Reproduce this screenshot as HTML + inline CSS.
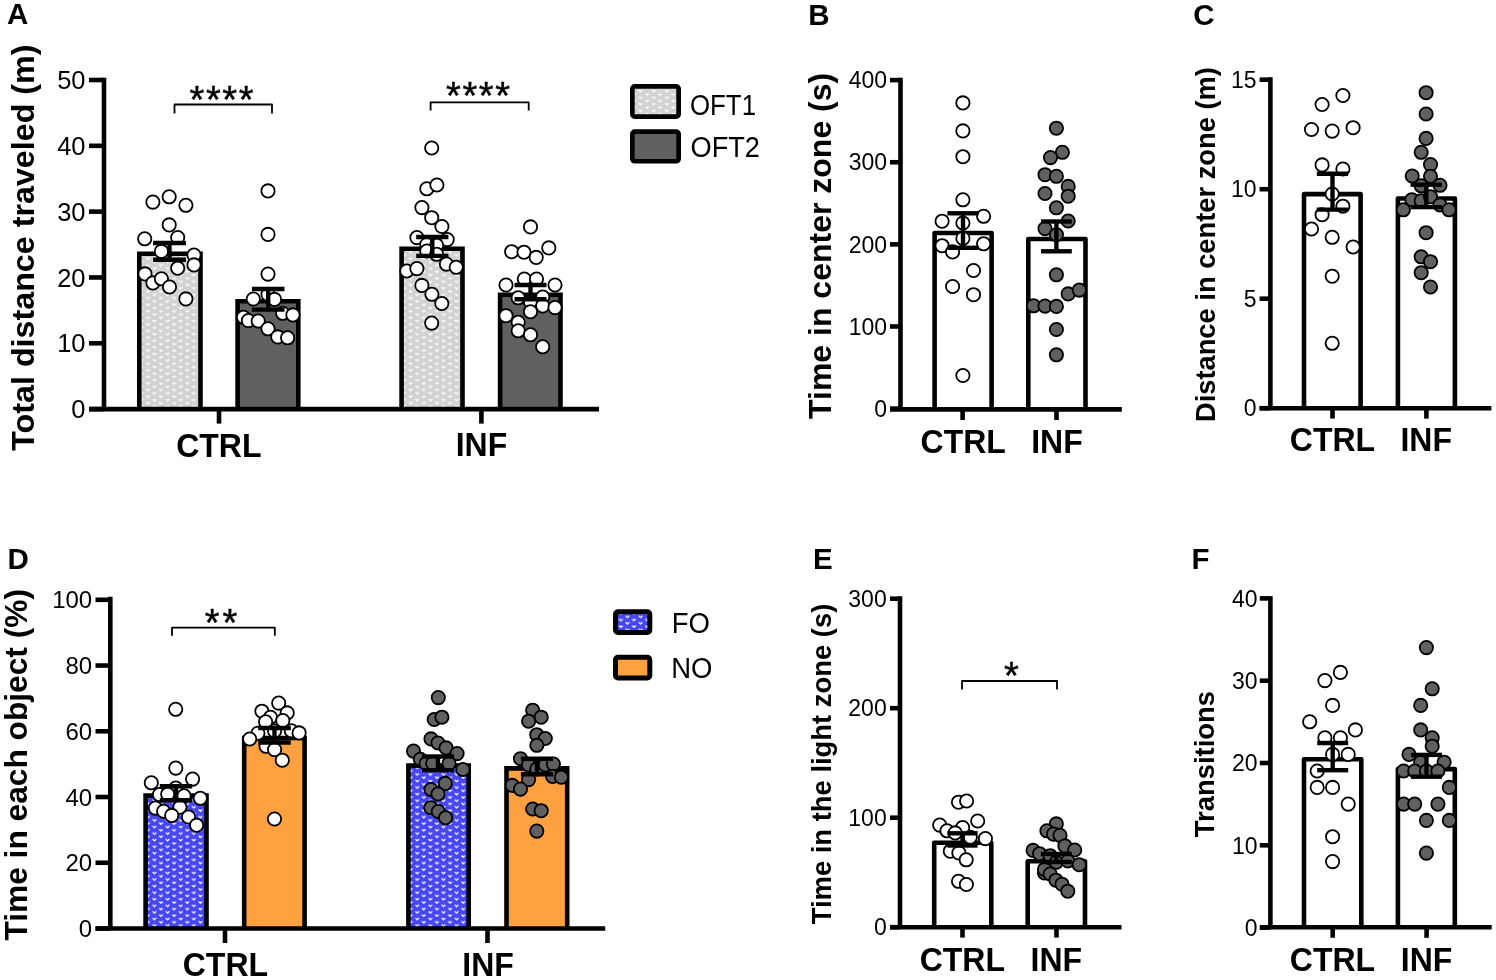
<!DOCTYPE html>
<html><head><meta charset="utf-8"><style>
html,body{margin:0;padding:0;background:#fff;}
svg{display:block;will-change:transform;}
text{font-family:"Liberation Sans", sans-serif;fill:#000;}
</style></head><body>
<svg width="1496" height="980" viewBox="0 0 1496 980">
<defs>
<pattern id="pgray" patternUnits="userSpaceOnUse" width="13.14" height="6.57" x="0" y="0">
<rect width="13.14" height="6.57" fill="#d2d2d2"/>
<path d="M1.5,1.4 L3.3,3.2 L5.1,1.4 M8.07,4.69 L9.87,6.49 L11.67,4.69 M8.07,-1.88 L9.87,-0.08 L11.67,-1.88" fill="none" stroke="#ffffff" stroke-width="1.2"/>
</pattern>
<pattern id="pblue" patternUnits="userSpaceOnUse" width="13.14" height="6.57" x="0" y="0">
<rect width="13.14" height="6.57" fill="#4646f2"/>
<path d="M1.5,1.4 L3.3,3.2 L5.1,1.4 M8.07,4.69 L9.87,6.49 L11.67,4.69 M8.07,-1.88 L9.87,-0.08 L11.67,-1.88" fill="none" stroke="#ffffff" stroke-width="1.25"/>
</pattern>
</defs>
<rect width="1496" height="980" fill="#fff"/>
<text transform="translate(7.00,24.10) scale(1,1.01)" x="0" y="0" font-size="29.5" font-weight="bold" text-anchor="start" >A</text>
<text transform="translate(808.20,24.50) scale(1,1.01)" x="0" y="0" font-size="29.5" font-weight="bold" text-anchor="start" >B</text>
<text transform="translate(1193.20,24.50) scale(1,1.01)" x="0" y="0" font-size="29.5" font-weight="bold" text-anchor="start" >C</text>
<text transform="translate(7.50,569.00) scale(1,1.01)" x="0" y="0" font-size="29.5" font-weight="bold" text-anchor="start" >D</text>
<text transform="translate(813.00,568.90) scale(1,1.01)" x="0" y="0" font-size="29.5" font-weight="bold" text-anchor="start" >E</text>
<text transform="translate(1191.50,569.10) scale(1,1.01)" x="0" y="0" font-size="29.5" font-weight="bold" text-anchor="start" >F</text>
<path d="M139.30,409.10 V253.80 H200.50 V409.10" fill="url(#pgray)" stroke="#000" stroke-width="4.6" stroke-linejoin="miter"/>
<path d="M237.60,409.10 V301.30 H298.30 V409.10" fill="#606060" stroke="#000" stroke-width="4.6" stroke-linejoin="miter"/>
<path d="M401.60,409.10 V248.80 H462.50 V409.10" fill="url(#pgray)" stroke="#000" stroke-width="4.6" stroke-linejoin="miter"/>
<path d="M500.10,409.10 V294.70 H560.50 V409.10" fill="#606060" stroke="#000" stroke-width="4.6" stroke-linejoin="miter"/>
<line x1="89.00" y1="409.10" x2="599.00" y2="409.10" stroke="#000" stroke-width="4.6" stroke-linecap="butt"/>
<line x1="219.00" y1="409.10" x2="219.00" y2="423.60" stroke="#000" stroke-width="4.6" stroke-linecap="butt"/>
<line x1="481.40" y1="409.10" x2="481.40" y2="423.60" stroke="#000" stroke-width="4.6" stroke-linecap="butt"/>
<line x1="104.00" y1="77.70" x2="104.00" y2="409.10" stroke="#000" stroke-width="4.6" stroke-linecap="butt"/>
<line x1="89.00" y1="409.10" x2="104.00" y2="409.10" stroke="#000" stroke-width="4.6" stroke-linecap="butt"/>
<text x="85.50" y="418.23" font-size="25.5" font-weight="normal" text-anchor="end" >0</text>
<line x1="89.00" y1="343.28" x2="104.00" y2="343.28" stroke="#000" stroke-width="4.6" stroke-linecap="butt"/>
<text x="85.50" y="352.41" font-size="25.5" font-weight="normal" text-anchor="end" >10</text>
<line x1="89.00" y1="277.46" x2="104.00" y2="277.46" stroke="#000" stroke-width="4.6" stroke-linecap="butt"/>
<text x="85.50" y="286.59" font-size="25.5" font-weight="normal" text-anchor="end" >20</text>
<line x1="89.00" y1="211.64" x2="104.00" y2="211.64" stroke="#000" stroke-width="4.6" stroke-linecap="butt"/>
<text x="85.50" y="220.77" font-size="25.5" font-weight="normal" text-anchor="end" >30</text>
<line x1="89.00" y1="145.82" x2="104.00" y2="145.82" stroke="#000" stroke-width="4.6" stroke-linecap="butt"/>
<text x="85.50" y="154.95" font-size="25.5" font-weight="normal" text-anchor="end" >40</text>
<line x1="89.00" y1="80.00" x2="104.00" y2="80.00" stroke="#000" stroke-width="4.6" stroke-linecap="butt"/>
<text x="85.50" y="89.13" font-size="25.5" font-weight="normal" text-anchor="end" >50</text>
<text transform="translate(34.30,247.60) rotate(-90)" x="0" y="0" font-size="32.25" font-weight="bold" text-anchor="middle">Total distance traveled (m)</text>
<text transform="translate(218.80,456.50) scale(1,1.06)" x="0" y="0" font-size="32" font-weight="bold" text-anchor="middle" >CTRL</text>
<text transform="translate(481.40,456.20) scale(1,1.06)" x="0" y="0" font-size="32" font-weight="bold" text-anchor="middle" >INF</text>
<path d="M174.50,113.50 V104.50 H272.00 V113.50" fill="none" stroke="#000" stroke-width="1.8" stroke-linejoin="round"/>
<path d="M430.60,110.40 V102.30 H528.70 V110.40" fill="none" stroke="#000" stroke-width="1.8" stroke-linejoin="round"/>
<text x="189.50" y="113.20" font-size="38" stroke="#000" stroke-width="0.45" class="st">*</text>
<text x="205.90" y="113.20" font-size="38" stroke="#000" stroke-width="0.45" class="st">*</text>
<text x="222.30" y="113.20" font-size="38" stroke="#000" stroke-width="0.45" class="st">*</text>
<text x="238.70" y="113.20" font-size="38" stroke="#000" stroke-width="0.45" class="st">*</text>
<text x="446.00" y="108.80" font-size="38" stroke="#000" stroke-width="0.45" class="st">*</text>
<text x="462.40" y="108.80" font-size="38" stroke="#000" stroke-width="0.45" class="st">*</text>
<text x="478.80" y="108.80" font-size="38" stroke="#000" stroke-width="0.45" class="st">*</text>
<text x="495.20" y="108.80" font-size="38" stroke="#000" stroke-width="0.45" class="st">*</text>
<rect x="632.35" y="86.35" width="46.3" height="30.3" rx="2.5" fill="url(#pgray)" stroke="#000" stroke-width="4.7"/>
<rect x="632.35" y="131.65" width="46.3" height="29.6" rx="2.5" fill="#606060" stroke="#000" stroke-width="4.7"/>
<text transform="translate(690.00,114.90) scale(1,1.06)" x="0" y="0" font-size="28" font-weight="normal" text-anchor="start" textLength="66" lengthAdjust="spacingAndGlyphs">OFT1</text>
<text transform="translate(690.50,156.90) scale(1,1.06)" x="0" y="0" font-size="28" font-weight="normal" text-anchor="start" textLength="69.5" lengthAdjust="spacingAndGlyphs">OFT2</text>
<circle cx="152.9" cy="202.1" r="6.65" fill="#fff" stroke="#000" stroke-width="1.8"/>
<circle cx="169.2" cy="196.8" r="6.65" fill="#fff" stroke="#000" stroke-width="1.8"/>
<circle cx="185.9" cy="205.3" r="6.65" fill="#fff" stroke="#000" stroke-width="1.8"/>
<circle cx="169.2" cy="224.9" r="6.65" fill="#fff" stroke="#000" stroke-width="1.8"/>
<circle cx="144.7" cy="238.8" r="6.65" fill="#fff" stroke="#000" stroke-width="1.8"/>
<circle cx="177.7" cy="237.5" r="6.65" fill="#fff" stroke="#000" stroke-width="1.8"/>
<circle cx="161.4" cy="251.4" r="6.65" fill="#fff" stroke="#000" stroke-width="1.8"/>
<circle cx="194.0" cy="255.1" r="6.65" fill="#fff" stroke="#000" stroke-width="1.8"/>
<circle cx="194.0" cy="264.9" r="6.65" fill="#fff" stroke="#000" stroke-width="1.8"/>
<circle cx="177.7" cy="268.2" r="6.65" fill="#fff" stroke="#000" stroke-width="1.8"/>
<circle cx="145.0" cy="273.9" r="6.65" fill="#fff" stroke="#000" stroke-width="1.8"/>
<circle cx="152.9" cy="282.9" r="6.65" fill="#fff" stroke="#000" stroke-width="1.8"/>
<circle cx="161.4" cy="278.8" r="6.65" fill="#fff" stroke="#000" stroke-width="1.8"/>
<circle cx="169.5" cy="287.0" r="6.65" fill="#fff" stroke="#000" stroke-width="1.8"/>
<circle cx="185.9" cy="298.9" r="6.65" fill="#fff" stroke="#000" stroke-width="1.8"/>
<circle cx="268.0" cy="190.9" r="6.65" fill="#fff" stroke="#000" stroke-width="1.8"/>
<circle cx="268.0" cy="234.4" r="6.65" fill="#fff" stroke="#000" stroke-width="1.8"/>
<circle cx="268.0" cy="274.1" r="6.65" fill="#fff" stroke="#000" stroke-width="1.8"/>
<circle cx="268.0" cy="294.5" r="6.65" fill="#fff" stroke="#000" stroke-width="1.8"/>
<circle cx="274.5" cy="299.4" r="6.65" fill="#fff" stroke="#000" stroke-width="1.8"/>
<circle cx="253.3" cy="299.0" r="6.65" fill="#fff" stroke="#000" stroke-width="1.8"/>
<circle cx="282.7" cy="313.3" r="6.65" fill="#fff" stroke="#000" stroke-width="1.8"/>
<circle cx="292.9" cy="314.9" r="6.65" fill="#fff" stroke="#000" stroke-width="1.8"/>
<circle cx="243.5" cy="317.3" r="6.65" fill="#fff" stroke="#000" stroke-width="1.8"/>
<circle cx="248.4" cy="320.6" r="6.65" fill="#fff" stroke="#000" stroke-width="1.8"/>
<circle cx="258.2" cy="321.0" r="6.65" fill="#fff" stroke="#000" stroke-width="1.8"/>
<circle cx="268.0" cy="328.8" r="6.65" fill="#fff" stroke="#000" stroke-width="1.8"/>
<circle cx="277.8" cy="336.9" r="6.65" fill="#fff" stroke="#000" stroke-width="1.8"/>
<circle cx="287.6" cy="337.8" r="6.65" fill="#fff" stroke="#000" stroke-width="1.8"/>
<circle cx="431.7" cy="148.0" r="6.65" fill="#fff" stroke="#000" stroke-width="1.8"/>
<circle cx="426.8" cy="188.8" r="6.65" fill="#fff" stroke="#000" stroke-width="1.8"/>
<circle cx="436.9" cy="185.0" r="6.65" fill="#fff" stroke="#000" stroke-width="1.8"/>
<circle cx="421.9" cy="207.6" r="6.65" fill="#fff" stroke="#000" stroke-width="1.8"/>
<circle cx="431.7" cy="217.7" r="6.65" fill="#fff" stroke="#000" stroke-width="1.8"/>
<circle cx="441.9" cy="226.5" r="6.65" fill="#fff" stroke="#000" stroke-width="1.8"/>
<circle cx="416.9" cy="237.6" r="6.65" fill="#fff" stroke="#000" stroke-width="1.8"/>
<circle cx="447.2" cy="239.6" r="6.65" fill="#fff" stroke="#000" stroke-width="1.8"/>
<circle cx="426.8" cy="244.5" r="6.65" fill="#fff" stroke="#000" stroke-width="1.8"/>
<circle cx="436.6" cy="245.3" r="6.65" fill="#fff" stroke="#000" stroke-width="1.8"/>
<circle cx="426.8" cy="251.0" r="6.65" fill="#fff" stroke="#000" stroke-width="1.8"/>
<circle cx="436.6" cy="254.3" r="6.65" fill="#fff" stroke="#000" stroke-width="1.8"/>
<circle cx="406.8" cy="271.0" r="6.65" fill="#fff" stroke="#000" stroke-width="1.8"/>
<circle cx="416.9" cy="268.6" r="6.65" fill="#fff" stroke="#000" stroke-width="1.8"/>
<circle cx="446.4" cy="264.1" r="6.65" fill="#fff" stroke="#000" stroke-width="1.8"/>
<circle cx="456.2" cy="267.3" r="6.65" fill="#fff" stroke="#000" stroke-width="1.8"/>
<circle cx="421.9" cy="285.4" r="6.65" fill="#fff" stroke="#000" stroke-width="1.8"/>
<circle cx="431.9" cy="294.3" r="6.65" fill="#fff" stroke="#000" stroke-width="1.8"/>
<circle cx="441.8" cy="303.5" r="6.65" fill="#fff" stroke="#000" stroke-width="1.8"/>
<circle cx="431.7" cy="323.1" r="6.65" fill="#fff" stroke="#000" stroke-width="1.8"/>
<circle cx="530.5" cy="226.9" r="6.65" fill="#fff" stroke="#000" stroke-width="1.8"/>
<circle cx="511.7" cy="251.7" r="6.65" fill="#fff" stroke="#000" stroke-width="1.8"/>
<circle cx="524.0" cy="252.2" r="6.65" fill="#fff" stroke="#000" stroke-width="1.8"/>
<circle cx="536.2" cy="257.4" r="6.65" fill="#fff" stroke="#000" stroke-width="1.8"/>
<circle cx="548.8" cy="247.9" r="6.65" fill="#fff" stroke="#000" stroke-width="1.8"/>
<circle cx="524.3" cy="279.0" r="6.65" fill="#fff" stroke="#000" stroke-width="1.8"/>
<circle cx="536.5" cy="279.0" r="6.65" fill="#fff" stroke="#000" stroke-width="1.8"/>
<circle cx="506.0" cy="285.0" r="6.65" fill="#fff" stroke="#000" stroke-width="1.8"/>
<circle cx="555.0" cy="285.0" r="6.65" fill="#fff" stroke="#000" stroke-width="1.8"/>
<circle cx="518.2" cy="297.8" r="6.65" fill="#fff" stroke="#000" stroke-width="1.8"/>
<circle cx="542.7" cy="297.0" r="6.65" fill="#fff" stroke="#000" stroke-width="1.8"/>
<circle cx="530.5" cy="301.9" r="6.65" fill="#fff" stroke="#000" stroke-width="1.8"/>
<circle cx="542.7" cy="305.9" r="6.65" fill="#fff" stroke="#000" stroke-width="1.8"/>
<circle cx="555.0" cy="307.6" r="6.65" fill="#fff" stroke="#000" stroke-width="1.8"/>
<circle cx="530.5" cy="311.7" r="6.65" fill="#fff" stroke="#000" stroke-width="1.8"/>
<circle cx="506.0" cy="315.7" r="6.65" fill="#fff" stroke="#000" stroke-width="1.8"/>
<circle cx="518.2" cy="322.3" r="6.65" fill="#fff" stroke="#000" stroke-width="1.8"/>
<circle cx="518.2" cy="330.8" r="6.65" fill="#fff" stroke="#000" stroke-width="1.8"/>
<circle cx="530.5" cy="334.8" r="6.65" fill="#fff" stroke="#000" stroke-width="1.8"/>
<circle cx="542.7" cy="346.8" r="6.65" fill="#fff" stroke="#000" stroke-width="1.8"/>
<line x1="169.50" y1="243.00" x2="169.50" y2="259.70" stroke="#000" stroke-width="4.4" stroke-linecap="butt"/>
<line x1="153.10" y1="243.00" x2="185.90" y2="243.00" stroke="#000" stroke-width="4.4" stroke-linecap="butt"/>
<line x1="153.10" y1="259.70" x2="185.90" y2="259.70" stroke="#000" stroke-width="4.4" stroke-linecap="butt"/>
<line x1="268.20" y1="289.00" x2="268.20" y2="309.60" stroke="#000" stroke-width="4.4" stroke-linecap="butt"/>
<line x1="251.90" y1="289.00" x2="284.50" y2="289.00" stroke="#000" stroke-width="4.4" stroke-linecap="butt"/>
<line x1="251.90" y1="309.60" x2="284.50" y2="309.60" stroke="#000" stroke-width="4.4" stroke-linecap="butt"/>
<line x1="432.30" y1="237.00" x2="432.30" y2="255.90" stroke="#000" stroke-width="4.4" stroke-linecap="butt"/>
<line x1="416.20" y1="237.00" x2="448.40" y2="237.00" stroke="#000" stroke-width="4.4" stroke-linecap="butt"/>
<line x1="416.20" y1="255.90" x2="448.40" y2="255.90" stroke="#000" stroke-width="4.4" stroke-linecap="butt"/>
<line x1="530.50" y1="285.00" x2="530.50" y2="299.20" stroke="#000" stroke-width="4.4" stroke-linecap="butt"/>
<line x1="514.50" y1="285.00" x2="546.50" y2="285.00" stroke="#000" stroke-width="4.4" stroke-linecap="butt"/>
<line x1="514.50" y1="299.20" x2="546.50" y2="299.20" stroke="#000" stroke-width="4.4" stroke-linecap="butt"/>
<path d="M934.60,409.40 V233.00 H991.60 V409.40" fill="#fff" stroke="#000" stroke-width="4.6" stroke-linejoin="round"/>
<path d="M1028.30,409.40 V239.00 H1085.50 V409.40" fill="#fff" stroke="#000" stroke-width="4.6" stroke-linejoin="round"/>
<line x1="890.00" y1="409.40" x2="1121.80" y2="409.40" stroke="#000" stroke-width="4.6" stroke-linecap="butt"/>
<line x1="962.60" y1="409.40" x2="962.60" y2="420.00" stroke="#000" stroke-width="4.6" stroke-linecap="butt"/>
<line x1="1056.50" y1="409.40" x2="1056.50" y2="420.00" stroke="#000" stroke-width="4.6" stroke-linecap="butt"/>
<line x1="900.50" y1="77.70" x2="900.50" y2="409.40" stroke="#000" stroke-width="4.6" stroke-linecap="butt"/>
<line x1="890.00" y1="408.60" x2="900.50" y2="408.60" stroke="#000" stroke-width="4.6" stroke-linecap="butt"/>
<text x="887.00" y="416.83" font-size="23" font-weight="normal" text-anchor="end" >0</text>
<line x1="890.00" y1="326.48" x2="900.50" y2="326.48" stroke="#000" stroke-width="4.6" stroke-linecap="butt"/>
<text x="887.00" y="334.71" font-size="23" font-weight="normal" text-anchor="end" >100</text>
<line x1="890.00" y1="244.36" x2="900.50" y2="244.36" stroke="#000" stroke-width="4.6" stroke-linecap="butt"/>
<text x="887.00" y="252.59" font-size="23" font-weight="normal" text-anchor="end" >200</text>
<line x1="890.00" y1="162.24" x2="900.50" y2="162.24" stroke="#000" stroke-width="4.6" stroke-linecap="butt"/>
<text x="887.00" y="170.47" font-size="23" font-weight="normal" text-anchor="end" >300</text>
<line x1="890.00" y1="80.12" x2="900.50" y2="80.12" stroke="#000" stroke-width="4.6" stroke-linecap="butt"/>
<text x="887.00" y="88.35" font-size="23" font-weight="normal" text-anchor="end" >400</text>
<text transform="translate(830.70,245.90) rotate(-90)" x="0" y="0" font-size="32.0" font-weight="bold" text-anchor="middle">Time in center zone (s)</text>
<text transform="translate(963.20,452.70) scale(1,1.06)" x="0" y="0" font-size="32" font-weight="bold" text-anchor="middle" >CTRL</text>
<text transform="translate(1056.90,452.70) scale(1,1.06)" x="0" y="0" font-size="32" font-weight="bold" text-anchor="middle" >INF</text>
<circle cx="962.9" cy="102.9" r="6.65" fill="#fff" stroke="#000" stroke-width="1.8"/>
<circle cx="962.9" cy="130.9" r="6.65" fill="#fff" stroke="#000" stroke-width="1.8"/>
<circle cx="962.9" cy="156.7" r="6.65" fill="#fff" stroke="#000" stroke-width="1.8"/>
<circle cx="962.9" cy="199.8" r="6.65" fill="#fff" stroke="#000" stroke-width="1.8"/>
<circle cx="942.1" cy="221.2" r="6.65" fill="#fff" stroke="#000" stroke-width="1.8"/>
<circle cx="962.9" cy="223.0" r="6.65" fill="#fff" stroke="#000" stroke-width="1.8"/>
<circle cx="983.6" cy="216.3" r="6.65" fill="#fff" stroke="#000" stroke-width="1.8"/>
<circle cx="962.9" cy="238.4" r="6.65" fill="#fff" stroke="#000" stroke-width="1.8"/>
<circle cx="942.1" cy="245.7" r="6.65" fill="#fff" stroke="#000" stroke-width="1.8"/>
<circle cx="983.6" cy="243.8" r="6.65" fill="#fff" stroke="#000" stroke-width="1.8"/>
<circle cx="952.6" cy="251.9" r="6.65" fill="#fff" stroke="#000" stroke-width="1.8"/>
<circle cx="973.5" cy="270.5" r="6.65" fill="#fff" stroke="#000" stroke-width="1.8"/>
<circle cx="952.6" cy="286.5" r="6.65" fill="#fff" stroke="#000" stroke-width="1.8"/>
<circle cx="973.5" cy="294.7" r="6.65" fill="#fff" stroke="#000" stroke-width="1.8"/>
<circle cx="962.9" cy="375.5" r="6.65" fill="#fff" stroke="#000" stroke-width="1.8"/>
<circle cx="1056.4" cy="128.2" r="6.65" fill="#606060" stroke="#000" stroke-width="1.8"/>
<circle cx="1062.4" cy="152.3" r="6.65" fill="#606060" stroke="#000" stroke-width="1.8"/>
<circle cx="1050.5" cy="157.6" r="6.65" fill="#606060" stroke="#000" stroke-width="1.8"/>
<circle cx="1045.0" cy="174.7" r="6.65" fill="#606060" stroke="#000" stroke-width="1.8"/>
<circle cx="1056.4" cy="176.3" r="6.65" fill="#606060" stroke="#000" stroke-width="1.8"/>
<circle cx="1068.2" cy="186.4" r="6.65" fill="#606060" stroke="#000" stroke-width="1.8"/>
<circle cx="1045.0" cy="193.5" r="6.65" fill="#606060" stroke="#000" stroke-width="1.8"/>
<circle cx="1068.2" cy="196.2" r="6.65" fill="#606060" stroke="#000" stroke-width="1.8"/>
<circle cx="1056.4" cy="207.8" r="6.65" fill="#606060" stroke="#000" stroke-width="1.8"/>
<circle cx="1068.2" cy="221.0" r="6.65" fill="#606060" stroke="#000" stroke-width="1.8"/>
<circle cx="1045.0" cy="228.6" r="6.65" fill="#606060" stroke="#000" stroke-width="1.8"/>
<circle cx="1056.4" cy="234.7" r="6.65" fill="#606060" stroke="#000" stroke-width="1.8"/>
<circle cx="1056.4" cy="274.8" r="6.65" fill="#606060" stroke="#000" stroke-width="1.8"/>
<circle cx="1068.2" cy="293.9" r="6.65" fill="#606060" stroke="#000" stroke-width="1.8"/>
<circle cx="1079.3" cy="290.1" r="6.65" fill="#606060" stroke="#000" stroke-width="1.8"/>
<circle cx="1033.6" cy="305.8" r="6.65" fill="#606060" stroke="#000" stroke-width="1.8"/>
<circle cx="1045.0" cy="306.1" r="6.65" fill="#606060" stroke="#000" stroke-width="1.8"/>
<circle cx="1056.4" cy="306.4" r="6.65" fill="#606060" stroke="#000" stroke-width="1.8"/>
<circle cx="1056.4" cy="329.5" r="6.65" fill="#606060" stroke="#000" stroke-width="1.8"/>
<circle cx="1056.4" cy="354.8" r="6.65" fill="#606060" stroke="#000" stroke-width="1.8"/>
<line x1="963.00" y1="213.30" x2="963.00" y2="247.80" stroke="#000" stroke-width="4.4" stroke-linecap="butt"/>
<line x1="947.40" y1="213.30" x2="978.60" y2="213.30" stroke="#000" stroke-width="4.4" stroke-linecap="butt"/>
<line x1="947.40" y1="247.80" x2="978.60" y2="247.80" stroke="#000" stroke-width="4.4" stroke-linecap="butt"/>
<line x1="1056.40" y1="221.50" x2="1056.40" y2="251.30" stroke="#000" stroke-width="4.4" stroke-linecap="butt"/>
<line x1="1041.00" y1="221.50" x2="1071.80" y2="221.50" stroke="#000" stroke-width="4.4" stroke-linecap="butt"/>
<line x1="1041.00" y1="251.30" x2="1071.80" y2="251.30" stroke="#000" stroke-width="4.4" stroke-linecap="butt"/>
<path d="M1304.00,408.30 V194.10 H1360.60 V408.30" fill="#fff" stroke="#000" stroke-width="4.6" stroke-linejoin="round"/>
<path d="M1397.90,408.30 V198.50 H1454.90 V408.30" fill="#fff" stroke="#000" stroke-width="4.6" stroke-linejoin="round"/>
<line x1="1259.60" y1="408.30" x2="1491.40" y2="408.30" stroke="#000" stroke-width="4.6" stroke-linecap="butt"/>
<line x1="1332.50" y1="408.30" x2="1332.50" y2="418.60" stroke="#000" stroke-width="4.6" stroke-linecap="butt"/>
<line x1="1426.40" y1="408.30" x2="1426.40" y2="418.60" stroke="#000" stroke-width="4.6" stroke-linecap="butt"/>
<line x1="1270.40" y1="77.30" x2="1270.40" y2="408.30" stroke="#000" stroke-width="4.6" stroke-linecap="butt"/>
<line x1="1259.60" y1="408.20" x2="1270.40" y2="408.20" stroke="#000" stroke-width="4.6" stroke-linecap="butt"/>
<text x="1256.50" y="416.43" font-size="23" font-weight="normal" text-anchor="end" >0</text>
<line x1="1259.60" y1="298.70" x2="1270.40" y2="298.70" stroke="#000" stroke-width="4.6" stroke-linecap="butt"/>
<text x="1256.50" y="306.93" font-size="23" font-weight="normal" text-anchor="end" >5</text>
<line x1="1259.60" y1="189.20" x2="1270.40" y2="189.20" stroke="#000" stroke-width="4.6" stroke-linecap="butt"/>
<text x="1256.50" y="197.43" font-size="23" font-weight="normal" text-anchor="end" >10</text>
<line x1="1259.60" y1="79.70" x2="1270.40" y2="79.70" stroke="#000" stroke-width="4.6" stroke-linecap="butt"/>
<text x="1256.50" y="87.93" font-size="23" font-weight="normal" text-anchor="end" >15</text>
<text transform="translate(1214.60,244.60) rotate(-90)" x="0" y="0" font-size="27.3" font-weight="bold" text-anchor="middle">Distance in center zone (m)</text>
<text transform="translate(1332.50,451.40) scale(1,1.06)" x="0" y="0" font-size="32" font-weight="bold" text-anchor="middle" >CTRL</text>
<text transform="translate(1426.20,451.40) scale(1,1.06)" x="0" y="0" font-size="32" font-weight="bold" text-anchor="middle" >INF</text>
<circle cx="1342.9" cy="95.5" r="6.65" fill="#fff" stroke="#000" stroke-width="1.8"/>
<circle cx="1322.1" cy="104.5" r="6.65" fill="#fff" stroke="#000" stroke-width="1.8"/>
<circle cx="1311.5" cy="129.5" r="6.65" fill="#fff" stroke="#000" stroke-width="1.8"/>
<circle cx="1332.2" cy="131.1" r="6.65" fill="#fff" stroke="#000" stroke-width="1.8"/>
<circle cx="1353.1" cy="127.7" r="6.65" fill="#fff" stroke="#000" stroke-width="1.8"/>
<circle cx="1322.1" cy="164.9" r="6.65" fill="#fff" stroke="#000" stroke-width="1.8"/>
<circle cx="1342.9" cy="169.0" r="6.65" fill="#fff" stroke="#000" stroke-width="1.8"/>
<circle cx="1332.2" cy="194.0" r="6.65" fill="#fff" stroke="#000" stroke-width="1.8"/>
<circle cx="1342.9" cy="206.2" r="6.65" fill="#fff" stroke="#000" stroke-width="1.8"/>
<circle cx="1322.1" cy="214.7" r="6.65" fill="#fff" stroke="#000" stroke-width="1.8"/>
<circle cx="1311.5" cy="229.0" r="6.65" fill="#fff" stroke="#000" stroke-width="1.8"/>
<circle cx="1332.2" cy="237.3" r="6.65" fill="#fff" stroke="#000" stroke-width="1.8"/>
<circle cx="1353.1" cy="247.0" r="6.65" fill="#fff" stroke="#000" stroke-width="1.8"/>
<circle cx="1332.2" cy="276.2" r="6.65" fill="#fff" stroke="#000" stroke-width="1.8"/>
<circle cx="1332.2" cy="343.3" r="6.65" fill="#fff" stroke="#000" stroke-width="1.8"/>
<circle cx="1426.1" cy="92.7" r="6.65" fill="#606060" stroke="#000" stroke-width="1.8"/>
<circle cx="1426.1" cy="114.0" r="6.65" fill="#606060" stroke="#000" stroke-width="1.8"/>
<circle cx="1426.1" cy="138.4" r="6.65" fill="#606060" stroke="#000" stroke-width="1.8"/>
<circle cx="1421.2" cy="152.3" r="6.65" fill="#606060" stroke="#000" stroke-width="1.8"/>
<circle cx="1430.5" cy="164.6" r="6.65" fill="#606060" stroke="#000" stroke-width="1.8"/>
<circle cx="1412.2" cy="176.0" r="6.65" fill="#606060" stroke="#000" stroke-width="1.8"/>
<circle cx="1430.5" cy="176.3" r="6.65" fill="#606060" stroke="#000" stroke-width="1.8"/>
<circle cx="1421.2" cy="185.8" r="6.65" fill="#606060" stroke="#000" stroke-width="1.8"/>
<circle cx="1440.0" cy="185.3" r="6.65" fill="#606060" stroke="#000" stroke-width="1.8"/>
<circle cx="1411.9" cy="199.7" r="6.65" fill="#606060" stroke="#000" stroke-width="1.8"/>
<circle cx="1421.2" cy="200.8" r="6.65" fill="#606060" stroke="#000" stroke-width="1.8"/>
<circle cx="1430.5" cy="196.7" r="6.65" fill="#606060" stroke="#000" stroke-width="1.8"/>
<circle cx="1440.0" cy="204.9" r="6.65" fill="#606060" stroke="#000" stroke-width="1.8"/>
<circle cx="1403.3" cy="209.8" r="6.65" fill="#606060" stroke="#000" stroke-width="1.8"/>
<circle cx="1449.0" cy="209.8" r="6.65" fill="#606060" stroke="#000" stroke-width="1.8"/>
<circle cx="1426.1" cy="232.7" r="6.65" fill="#606060" stroke="#000" stroke-width="1.8"/>
<circle cx="1421.2" cy="256.8" r="6.65" fill="#606060" stroke="#000" stroke-width="1.8"/>
<circle cx="1430.5" cy="261.7" r="6.65" fill="#606060" stroke="#000" stroke-width="1.8"/>
<circle cx="1421.2" cy="272.7" r="6.65" fill="#606060" stroke="#000" stroke-width="1.8"/>
<circle cx="1430.5" cy="287.0" r="6.65" fill="#606060" stroke="#000" stroke-width="1.8"/>
<line x1="1332.50" y1="173.70" x2="1332.50" y2="209.60" stroke="#000" stroke-width="4.4" stroke-linecap="butt"/>
<line x1="1316.80" y1="173.70" x2="1348.20" y2="173.70" stroke="#000" stroke-width="4.4" stroke-linecap="butt"/>
<line x1="1316.80" y1="209.60" x2="1348.20" y2="209.60" stroke="#000" stroke-width="4.4" stroke-linecap="butt"/>
<line x1="1426.30" y1="184.70" x2="1426.30" y2="207.10" stroke="#000" stroke-width="4.4" stroke-linecap="butt"/>
<line x1="1410.60" y1="184.70" x2="1442.00" y2="184.70" stroke="#000" stroke-width="4.4" stroke-linecap="butt"/>
<line x1="1410.60" y1="207.10" x2="1442.00" y2="207.10" stroke="#000" stroke-width="4.4" stroke-linecap="butt"/>
<path d="M145.60,928.50 V795.60 H206.50 V928.50" fill="url(#pblue)" stroke="#000" stroke-width="4.6" stroke-linejoin="miter"/>
<path d="M244.20,928.50 V738.00 H304.60 V928.50" fill="#ffa140" stroke="#000" stroke-width="4.6" stroke-linejoin="miter"/>
<path d="M408.40,928.50 V765.60 H468.70 V928.50" fill="url(#pblue)" stroke="#000" stroke-width="4.6" stroke-linejoin="miter"/>
<path d="M506.50,928.50 V768.40 H567.20 V928.50" fill="#ffa140" stroke="#000" stroke-width="4.6" stroke-linejoin="miter"/>
<line x1="95.60" y1="928.50" x2="605.20" y2="928.50" stroke="#000" stroke-width="4.6" stroke-linecap="butt"/>
<line x1="225.00" y1="928.50" x2="225.00" y2="943.00" stroke="#000" stroke-width="4.6" stroke-linecap="butt"/>
<line x1="487.50" y1="928.50" x2="487.50" y2="943.00" stroke="#000" stroke-width="4.6" stroke-linecap="butt"/>
<line x1="110.30" y1="596.70" x2="110.30" y2="928.50" stroke="#000" stroke-width="4.6" stroke-linecap="butt"/>
<line x1="95.50" y1="928.50" x2="110.30" y2="928.50" stroke="#000" stroke-width="4.6" stroke-linecap="butt"/>
<text x="92.20" y="937.09" font-size="24" font-weight="normal" text-anchor="end" >0</text>
<line x1="95.50" y1="862.76" x2="110.30" y2="862.76" stroke="#000" stroke-width="4.6" stroke-linecap="butt"/>
<text x="92.20" y="871.35" font-size="24" font-weight="normal" text-anchor="end" >20</text>
<line x1="95.50" y1="797.02" x2="110.30" y2="797.02" stroke="#000" stroke-width="4.6" stroke-linecap="butt"/>
<text x="92.20" y="805.61" font-size="24" font-weight="normal" text-anchor="end" >40</text>
<line x1="95.50" y1="731.28" x2="110.30" y2="731.28" stroke="#000" stroke-width="4.6" stroke-linecap="butt"/>
<text x="92.20" y="739.87" font-size="24" font-weight="normal" text-anchor="end" >60</text>
<line x1="95.50" y1="665.54" x2="110.30" y2="665.54" stroke="#000" stroke-width="4.6" stroke-linecap="butt"/>
<text x="92.20" y="674.13" font-size="24" font-weight="normal" text-anchor="end" >80</text>
<line x1="95.50" y1="599.80" x2="110.30" y2="599.80" stroke="#000" stroke-width="4.6" stroke-linecap="butt"/>
<text x="92.20" y="608.39" font-size="24" font-weight="normal" text-anchor="end" >100</text>
<text transform="translate(27.10,764.80) rotate(-90)" x="0" y="0" font-size="31.7" font-weight="bold" text-anchor="middle">Time in each object (%)</text>
<text transform="translate(225.40,976.20) scale(1,1.06)" x="0" y="0" font-size="32" font-weight="bold" text-anchor="middle" >CTRL</text>
<text transform="translate(488.00,975.90) scale(1,1.06)" x="0" y="0" font-size="32" font-weight="bold" text-anchor="middle" >INF</text>
<path d="M172.00,635.80 V627.60 H274.80 V635.80" fill="none" stroke="#000" stroke-width="1.8" stroke-linejoin="round"/>
<text x="204.70" y="636.40" font-size="38" stroke="#000" stroke-width="0.45" class="st">*</text>
<text x="222.50" y="636.40" font-size="38" stroke="#000" stroke-width="0.45" class="st">*</text>
<rect x="615.5" y="611.8" width="34.3" height="20.6" rx="2.5" fill="url(#pblue)" stroke="#000" stroke-width="5"/>
<rect x="615.5" y="657.3" width="34.3" height="20.6" rx="2.5" fill="#ffa140" stroke="#000" stroke-width="5"/>
<text transform="translate(671.70,632.70) scale(1,1.04)" x="0" y="0" font-size="27.5" font-weight="normal" text-anchor="start" >FO</text>
<text transform="translate(671.20,677.60) scale(1,1.04)" x="0" y="0" font-size="27.5" font-weight="normal" text-anchor="start" >NO</text>
<circle cx="175.7" cy="709.3" r="6.65" fill="#fff" stroke="#000" stroke-width="1.8"/>
<circle cx="175.8" cy="768.1" r="6.65" fill="#fff" stroke="#000" stroke-width="1.8"/>
<circle cx="151.3" cy="782.8" r="6.65" fill="#fff" stroke="#000" stroke-width="1.8"/>
<circle cx="192.6" cy="779.1" r="6.65" fill="#fff" stroke="#000" stroke-width="1.8"/>
<circle cx="175.8" cy="788.0" r="6.65" fill="#fff" stroke="#000" stroke-width="1.8"/>
<circle cx="159.5" cy="794.6" r="6.65" fill="#fff" stroke="#000" stroke-width="1.8"/>
<circle cx="167.7" cy="794.2" r="6.65" fill="#fff" stroke="#000" stroke-width="1.8"/>
<circle cx="184.0" cy="795.8" r="6.65" fill="#fff" stroke="#000" stroke-width="1.8"/>
<circle cx="200.3" cy="798.3" r="6.65" fill="#fff" stroke="#000" stroke-width="1.8"/>
<circle cx="155.4" cy="808.1" r="6.65" fill="#fff" stroke="#000" stroke-width="1.8"/>
<circle cx="163.6" cy="811.3" r="6.65" fill="#fff" stroke="#000" stroke-width="1.8"/>
<circle cx="179.9" cy="807.2" r="6.65" fill="#fff" stroke="#000" stroke-width="1.8"/>
<circle cx="171.7" cy="815.4" r="6.65" fill="#fff" stroke="#000" stroke-width="1.8"/>
<circle cx="188.5" cy="817.0" r="6.65" fill="#fff" stroke="#000" stroke-width="1.8"/>
<circle cx="196.6" cy="825.2" r="6.65" fill="#fff" stroke="#000" stroke-width="1.8"/>
<circle cx="278.7" cy="703.1" r="6.65" fill="#fff" stroke="#000" stroke-width="1.8"/>
<circle cx="261.9" cy="711.2" r="6.65" fill="#fff" stroke="#000" stroke-width="1.8"/>
<circle cx="287.2" cy="712.9" r="6.65" fill="#fff" stroke="#000" stroke-width="1.8"/>
<circle cx="270.5" cy="717.3" r="6.65" fill="#fff" stroke="#000" stroke-width="1.8"/>
<circle cx="282.8" cy="720.6" r="6.65" fill="#fff" stroke="#000" stroke-width="1.8"/>
<circle cx="265.6" cy="721.8" r="6.65" fill="#fff" stroke="#000" stroke-width="1.8"/>
<circle cx="274.6" cy="731.0" r="6.65" fill="#fff" stroke="#000" stroke-width="1.8"/>
<circle cx="291.3" cy="730.8" r="6.65" fill="#fff" stroke="#000" stroke-width="1.8"/>
<circle cx="299.1" cy="732.9" r="6.65" fill="#fff" stroke="#000" stroke-width="1.8"/>
<circle cx="257.9" cy="733.3" r="6.65" fill="#fff" stroke="#000" stroke-width="1.8"/>
<circle cx="249.7" cy="739.0" r="6.65" fill="#fff" stroke="#000" stroke-width="1.8"/>
<circle cx="266.0" cy="746.3" r="6.65" fill="#fff" stroke="#000" stroke-width="1.8"/>
<circle cx="274.6" cy="749.6" r="6.65" fill="#fff" stroke="#000" stroke-width="1.8"/>
<circle cx="282.3" cy="760.2" r="6.65" fill="#fff" stroke="#000" stroke-width="1.8"/>
<circle cx="274.5" cy="819.0" r="6.65" fill="#fff" stroke="#000" stroke-width="1.8"/>
<circle cx="438.3" cy="697.6" r="6.65" fill="#606060" stroke="#000" stroke-width="1.8"/>
<circle cx="434.2" cy="719.5" r="6.65" fill="#606060" stroke="#000" stroke-width="1.8"/>
<circle cx="441.9" cy="717.2" r="6.65" fill="#606060" stroke="#000" stroke-width="1.8"/>
<circle cx="431.0" cy="738.9" r="6.65" fill="#606060" stroke="#000" stroke-width="1.8"/>
<circle cx="438.0" cy="743.0" r="6.65" fill="#606060" stroke="#000" stroke-width="1.8"/>
<circle cx="446.1" cy="747.9" r="6.65" fill="#606060" stroke="#000" stroke-width="1.8"/>
<circle cx="413.5" cy="751.1" r="6.65" fill="#606060" stroke="#000" stroke-width="1.8"/>
<circle cx="457.1" cy="753.6" r="6.65" fill="#606060" stroke="#000" stroke-width="1.8"/>
<circle cx="420.4" cy="759.3" r="6.65" fill="#606060" stroke="#000" stroke-width="1.8"/>
<circle cx="426.1" cy="763.4" r="6.65" fill="#606060" stroke="#000" stroke-width="1.8"/>
<circle cx="432.7" cy="763.4" r="6.65" fill="#606060" stroke="#000" stroke-width="1.8"/>
<circle cx="449.0" cy="763.4" r="6.65" fill="#606060" stroke="#000" stroke-width="1.8"/>
<circle cx="462.9" cy="769.5" r="6.65" fill="#606060" stroke="#000" stroke-width="1.8"/>
<circle cx="445.3" cy="783.4" r="6.65" fill="#606060" stroke="#000" stroke-width="1.8"/>
<circle cx="431.0" cy="789.5" r="6.65" fill="#606060" stroke="#000" stroke-width="1.8"/>
<circle cx="438.0" cy="794.0" r="6.65" fill="#606060" stroke="#000" stroke-width="1.8"/>
<circle cx="430.9" cy="807.7" r="6.65" fill="#606060" stroke="#000" stroke-width="1.8"/>
<circle cx="438.3" cy="811.5" r="6.65" fill="#606060" stroke="#000" stroke-width="1.8"/>
<circle cx="445.6" cy="817.7" r="6.65" fill="#606060" stroke="#000" stroke-width="1.8"/>
<circle cx="532.7" cy="710.2" r="6.65" fill="#606060" stroke="#000" stroke-width="1.8"/>
<circle cx="541.2" cy="717.2" r="6.65" fill="#606060" stroke="#000" stroke-width="1.8"/>
<circle cx="528.6" cy="721.2" r="6.65" fill="#606060" stroke="#000" stroke-width="1.8"/>
<circle cx="536.8" cy="734.7" r="6.65" fill="#606060" stroke="#000" stroke-width="1.8"/>
<circle cx="545.3" cy="738.5" r="6.65" fill="#606060" stroke="#000" stroke-width="1.8"/>
<circle cx="536.8" cy="745.3" r="6.65" fill="#606060" stroke="#000" stroke-width="1.8"/>
<circle cx="520.5" cy="758.7" r="6.65" fill="#606060" stroke="#000" stroke-width="1.8"/>
<circle cx="528.6" cy="764.9" r="6.65" fill="#606060" stroke="#000" stroke-width="1.8"/>
<circle cx="536.8" cy="769.0" r="6.65" fill="#606060" stroke="#000" stroke-width="1.8"/>
<circle cx="545.3" cy="764.9" r="6.65" fill="#606060" stroke="#000" stroke-width="1.8"/>
<circle cx="553.4" cy="764.1" r="6.65" fill="#606060" stroke="#000" stroke-width="1.8"/>
<circle cx="528.6" cy="779.6" r="6.65" fill="#606060" stroke="#000" stroke-width="1.8"/>
<circle cx="552.6" cy="776.4" r="6.65" fill="#606060" stroke="#000" stroke-width="1.8"/>
<circle cx="561.3" cy="777.2" r="6.65" fill="#606060" stroke="#000" stroke-width="1.8"/>
<circle cx="512.3" cy="785.4" r="6.65" fill="#606060" stroke="#000" stroke-width="1.8"/>
<circle cx="520.5" cy="789.1" r="6.65" fill="#606060" stroke="#000" stroke-width="1.8"/>
<circle cx="532.7" cy="809.0" r="6.65" fill="#606060" stroke="#000" stroke-width="1.8"/>
<circle cx="541.2" cy="810.7" r="6.65" fill="#606060" stroke="#000" stroke-width="1.8"/>
<circle cx="536.8" cy="831.1" r="6.65" fill="#606060" stroke="#000" stroke-width="1.8"/>
<line x1="176.00" y1="786.20" x2="176.00" y2="800.30" stroke="#000" stroke-width="4.4" stroke-linecap="butt"/>
<line x1="159.80" y1="786.20" x2="192.20" y2="786.20" stroke="#000" stroke-width="4.4" stroke-linecap="butt"/>
<line x1="159.80" y1="800.30" x2="192.20" y2="800.30" stroke="#000" stroke-width="4.4" stroke-linecap="butt"/>
<line x1="274.50" y1="728.00" x2="274.50" y2="742.50" stroke="#000" stroke-width="4.4" stroke-linecap="butt"/>
<line x1="258.20" y1="728.00" x2="290.80" y2="728.00" stroke="#000" stroke-width="4.4" stroke-linecap="butt"/>
<line x1="258.20" y1="742.50" x2="290.80" y2="742.50" stroke="#000" stroke-width="4.4" stroke-linecap="butt"/>
<line x1="438.00" y1="756.50" x2="438.00" y2="770.20" stroke="#000" stroke-width="4.4" stroke-linecap="butt"/>
<line x1="422.00" y1="756.50" x2="454.00" y2="756.50" stroke="#000" stroke-width="4.4" stroke-linecap="butt"/>
<line x1="422.00" y1="770.20" x2="454.00" y2="770.20" stroke="#000" stroke-width="4.4" stroke-linecap="butt"/>
<line x1="537.00" y1="758.80" x2="537.00" y2="774.30" stroke="#000" stroke-width="4.4" stroke-linecap="butt"/>
<line x1="520.90" y1="758.80" x2="553.10" y2="758.80" stroke="#000" stroke-width="4.4" stroke-linecap="butt"/>
<line x1="520.90" y1="774.30" x2="553.10" y2="774.30" stroke="#000" stroke-width="4.4" stroke-linecap="butt"/>
<path d="M934.20,927.20 V842.70 H991.30 V927.20" fill="#fff" stroke="#000" stroke-width="4.6" stroke-linejoin="round"/>
<path d="M1027.70,927.20 V861.30 H1085.00 V927.20" fill="#fff" stroke="#000" stroke-width="4.6" stroke-linejoin="round"/>
<line x1="890.00" y1="927.20" x2="1121.50" y2="927.20" stroke="#000" stroke-width="4.6" stroke-linecap="butt"/>
<line x1="962.50" y1="927.20" x2="962.50" y2="937.60" stroke="#000" stroke-width="4.6" stroke-linecap="butt"/>
<line x1="1056.50" y1="927.20" x2="1056.50" y2="937.60" stroke="#000" stroke-width="4.6" stroke-linecap="butt"/>
<line x1="900.00" y1="596.20" x2="900.00" y2="927.20" stroke="#000" stroke-width="4.6" stroke-linecap="butt"/>
<line x1="890.00" y1="927.20" x2="900.00" y2="927.20" stroke="#000" stroke-width="4.6" stroke-linecap="butt"/>
<text x="886.70" y="935.43" font-size="23" font-weight="normal" text-anchor="end" >0</text>
<line x1="890.00" y1="817.70" x2="900.00" y2="817.70" stroke="#000" stroke-width="4.6" stroke-linecap="butt"/>
<text x="886.70" y="825.93" font-size="23" font-weight="normal" text-anchor="end" >100</text>
<line x1="890.00" y1="708.20" x2="900.00" y2="708.20" stroke="#000" stroke-width="4.6" stroke-linecap="butt"/>
<text x="886.70" y="716.43" font-size="23" font-weight="normal" text-anchor="end" >200</text>
<line x1="890.00" y1="598.70" x2="900.00" y2="598.70" stroke="#000" stroke-width="4.6" stroke-linecap="butt"/>
<text x="886.70" y="606.93" font-size="23" font-weight="normal" text-anchor="end" >300</text>
<text transform="translate(831.40,764.00) rotate(-90)" x="0" y="0" font-size="27.4" font-weight="bold" text-anchor="middle">Time in the light zone (s)</text>
<text transform="translate(962.30,970.70) scale(1,1.06)" x="0" y="0" font-size="32" font-weight="bold" text-anchor="middle" >CTRL</text>
<text transform="translate(1056.30,970.70) scale(1,1.06)" x="0" y="0" font-size="32" font-weight="bold" text-anchor="middle" >INF</text>
<path d="M962.00,689.50 V681.00 H1057.00 V689.50" fill="none" stroke="#000" stroke-width="1.8" stroke-linejoin="round"/>
<text x="1004.00" y="688.50" font-size="38" stroke="#000" stroke-width="0.45" class="st">*</text>
<circle cx="958.5" cy="802.2" r="6.65" fill="#fff" stroke="#000" stroke-width="1.8"/>
<circle cx="966.6" cy="801.0" r="6.65" fill="#fff" stroke="#000" stroke-width="1.8"/>
<circle cx="939.7" cy="825.1" r="6.65" fill="#fff" stroke="#000" stroke-width="1.8"/>
<circle cx="977.7" cy="821.0" r="6.65" fill="#fff" stroke="#000" stroke-width="1.8"/>
<circle cx="947.0" cy="830.8" r="6.65" fill="#fff" stroke="#000" stroke-width="1.8"/>
<circle cx="962.6" cy="827.6" r="6.65" fill="#fff" stroke="#000" stroke-width="1.8"/>
<circle cx="955.2" cy="832.9" r="6.65" fill="#fff" stroke="#000" stroke-width="1.8"/>
<circle cx="970.3" cy="837.3" r="6.65" fill="#fff" stroke="#000" stroke-width="1.8"/>
<circle cx="985.4" cy="838.6" r="6.65" fill="#fff" stroke="#000" stroke-width="1.8"/>
<circle cx="950.3" cy="851.2" r="6.65" fill="#fff" stroke="#000" stroke-width="1.8"/>
<circle cx="958.9" cy="852.9" r="6.65" fill="#fff" stroke="#000" stroke-width="1.8"/>
<circle cx="966.2" cy="859.8" r="6.65" fill="#fff" stroke="#000" stroke-width="1.8"/>
<circle cx="958.5" cy="881.3" r="6.65" fill="#fff" stroke="#000" stroke-width="1.8"/>
<circle cx="966.4" cy="884.5" r="6.65" fill="#fff" stroke="#000" stroke-width="1.8"/>
<circle cx="1056.3" cy="823.9" r="6.65" fill="#606060" stroke="#000" stroke-width="1.8"/>
<circle cx="1046.9" cy="830.8" r="6.65" fill="#606060" stroke="#000" stroke-width="1.8"/>
<circle cx="1053.5" cy="834.1" r="6.65" fill="#606060" stroke="#000" stroke-width="1.8"/>
<circle cx="1060.0" cy="835.3" r="6.65" fill="#606060" stroke="#000" stroke-width="1.8"/>
<circle cx="1033.1" cy="850.4" r="6.65" fill="#606060" stroke="#000" stroke-width="1.8"/>
<circle cx="1039.6" cy="853.7" r="6.65" fill="#606060" stroke="#000" stroke-width="1.8"/>
<circle cx="1064.9" cy="845.9" r="6.65" fill="#606060" stroke="#000" stroke-width="1.8"/>
<circle cx="1074.7" cy="850.0" r="6.65" fill="#606060" stroke="#000" stroke-width="1.8"/>
<circle cx="1050.2" cy="855.7" r="6.65" fill="#606060" stroke="#000" stroke-width="1.8"/>
<circle cx="1056.3" cy="862.2" r="6.65" fill="#606060" stroke="#000" stroke-width="1.8"/>
<circle cx="1067.8" cy="861.0" r="6.65" fill="#606060" stroke="#000" stroke-width="1.8"/>
<circle cx="1079.2" cy="864.7" r="6.65" fill="#606060" stroke="#000" stroke-width="1.8"/>
<circle cx="1044.5" cy="872.9" r="6.65" fill="#606060" stroke="#000" stroke-width="1.8"/>
<circle cx="1044.5" cy="869.4" r="6.65" fill="#606060" stroke="#000" stroke-width="1.8"/>
<circle cx="1050.2" cy="874.0" r="6.65" fill="#606060" stroke="#000" stroke-width="1.8"/>
<circle cx="1055.9" cy="880.2" r="6.65" fill="#606060" stroke="#000" stroke-width="1.8"/>
<circle cx="1062.0" cy="884.2" r="6.65" fill="#606060" stroke="#000" stroke-width="1.8"/>
<circle cx="1067.8" cy="891.2" r="6.65" fill="#606060" stroke="#000" stroke-width="1.8"/>
<line x1="962.50" y1="833.30" x2="962.50" y2="845.50" stroke="#000" stroke-width="4.4" stroke-linecap="butt"/>
<line x1="947.40" y1="833.30" x2="977.60" y2="833.30" stroke="#000" stroke-width="4.4" stroke-linecap="butt"/>
<line x1="947.40" y1="845.50" x2="977.60" y2="845.50" stroke="#000" stroke-width="4.4" stroke-linecap="butt"/>
<line x1="1056.30" y1="854.00" x2="1056.30" y2="862.00" stroke="#000" stroke-width="4.4" stroke-linecap="butt"/>
<line x1="1040.80" y1="854.00" x2="1071.80" y2="854.00" stroke="#000" stroke-width="4.4" stroke-linecap="butt"/>
<line x1="1040.80" y1="862.00" x2="1071.80" y2="862.00" stroke="#000" stroke-width="4.4" stroke-linecap="butt"/>
<path d="M1304.00,927.30 V759.30 H1361.30 V927.30" fill="#fff" stroke="#000" stroke-width="4.6" stroke-linejoin="round"/>
<path d="M1397.90,927.30 V769.10 H1454.80 V927.30" fill="#fff" stroke="#000" stroke-width="4.6" stroke-linejoin="round"/>
<line x1="1259.90" y1="927.30" x2="1491.70" y2="927.30" stroke="#000" stroke-width="4.6" stroke-linecap="butt"/>
<line x1="1332.70" y1="927.30" x2="1332.70" y2="937.80" stroke="#000" stroke-width="4.6" stroke-linecap="butt"/>
<line x1="1426.60" y1="927.30" x2="1426.60" y2="937.80" stroke="#000" stroke-width="4.6" stroke-linecap="butt"/>
<line x1="1270.40" y1="596.20" x2="1270.40" y2="927.30" stroke="#000" stroke-width="4.6" stroke-linecap="butt"/>
<line x1="1259.80" y1="927.60" x2="1270.40" y2="927.60" stroke="#000" stroke-width="4.6" stroke-linecap="butt"/>
<text x="1257.50" y="935.83" font-size="23" font-weight="normal" text-anchor="end" >0</text>
<line x1="1259.80" y1="845.30" x2="1270.40" y2="845.30" stroke="#000" stroke-width="4.6" stroke-linecap="butt"/>
<text x="1257.50" y="853.53" font-size="23" font-weight="normal" text-anchor="end" >10</text>
<line x1="1259.80" y1="763.00" x2="1270.40" y2="763.00" stroke="#000" stroke-width="4.6" stroke-linecap="butt"/>
<text x="1257.50" y="771.23" font-size="23" font-weight="normal" text-anchor="end" >20</text>
<line x1="1259.80" y1="680.70" x2="1270.40" y2="680.70" stroke="#000" stroke-width="4.6" stroke-linecap="butt"/>
<text x="1257.50" y="688.93" font-size="23" font-weight="normal" text-anchor="end" >30</text>
<line x1="1259.80" y1="598.40" x2="1270.40" y2="598.40" stroke="#000" stroke-width="4.6" stroke-linecap="butt"/>
<text x="1257.50" y="606.63" font-size="23" font-weight="normal" text-anchor="end" >40</text>
<text transform="translate(1214.10,764.10) rotate(-90)" x="0" y="0" font-size="27.4" font-weight="bold" text-anchor="middle">Transitions</text>
<text transform="translate(1332.50,970.70) scale(1,1.06)" x="0" y="0" font-size="32" font-weight="bold" text-anchor="middle" >CTRL</text>
<text transform="translate(1426.60,970.70) scale(1,1.06)" x="0" y="0" font-size="32" font-weight="bold" text-anchor="middle" >INF</text>
<circle cx="1340.4" cy="672.4" r="6.65" fill="#fff" stroke="#000" stroke-width="1.8"/>
<circle cx="1324.9" cy="680.6" r="6.65" fill="#fff" stroke="#000" stroke-width="1.8"/>
<circle cx="1332.6" cy="705.4" r="6.65" fill="#fff" stroke="#000" stroke-width="1.8"/>
<circle cx="1309.7" cy="721.8" r="6.65" fill="#fff" stroke="#000" stroke-width="1.8"/>
<circle cx="1355.4" cy="729.9" r="6.65" fill="#fff" stroke="#000" stroke-width="1.8"/>
<circle cx="1324.9" cy="737.8" r="6.65" fill="#fff" stroke="#000" stroke-width="1.8"/>
<circle cx="1340.4" cy="737.8" r="6.65" fill="#fff" stroke="#000" stroke-width="1.8"/>
<circle cx="1332.6" cy="754.4" r="6.65" fill="#fff" stroke="#000" stroke-width="1.8"/>
<circle cx="1348.2" cy="754.4" r="6.65" fill="#fff" stroke="#000" stroke-width="1.8"/>
<circle cx="1317.2" cy="771.0" r="6.65" fill="#fff" stroke="#000" stroke-width="1.8"/>
<circle cx="1317.2" cy="787.4" r="6.65" fill="#fff" stroke="#000" stroke-width="1.8"/>
<circle cx="1332.6" cy="787.4" r="6.65" fill="#fff" stroke="#000" stroke-width="1.8"/>
<circle cx="1348.2" cy="804.1" r="6.65" fill="#fff" stroke="#000" stroke-width="1.8"/>
<circle cx="1332.6" cy="836.7" r="6.65" fill="#fff" stroke="#000" stroke-width="1.8"/>
<circle cx="1332.6" cy="861.6" r="6.65" fill="#fff" stroke="#000" stroke-width="1.8"/>
<circle cx="1426.4" cy="647.6" r="6.65" fill="#606060" stroke="#000" stroke-width="1.8"/>
<circle cx="1432.2" cy="688.8" r="6.65" fill="#606060" stroke="#000" stroke-width="1.8"/>
<circle cx="1420.7" cy="705.4" r="6.65" fill="#606060" stroke="#000" stroke-width="1.8"/>
<circle cx="1420.7" cy="729.9" r="6.65" fill="#606060" stroke="#000" stroke-width="1.8"/>
<circle cx="1432.2" cy="737.8" r="6.65" fill="#606060" stroke="#000" stroke-width="1.8"/>
<circle cx="1432.2" cy="746.2" r="6.65" fill="#606060" stroke="#000" stroke-width="1.8"/>
<circle cx="1409.0" cy="754.4" r="6.65" fill="#606060" stroke="#000" stroke-width="1.8"/>
<circle cx="1420.7" cy="762.2" r="6.65" fill="#606060" stroke="#000" stroke-width="1.8"/>
<circle cx="1444.1" cy="762.2" r="6.65" fill="#606060" stroke="#000" stroke-width="1.8"/>
<circle cx="1403.6" cy="771.0" r="6.65" fill="#606060" stroke="#000" stroke-width="1.8"/>
<circle cx="1414.7" cy="771.0" r="6.65" fill="#606060" stroke="#000" stroke-width="1.8"/>
<circle cx="1426.4" cy="771.0" r="6.65" fill="#606060" stroke="#000" stroke-width="1.8"/>
<circle cx="1437.9" cy="771.0" r="6.65" fill="#606060" stroke="#000" stroke-width="1.8"/>
<circle cx="1449.3" cy="787.4" r="6.65" fill="#606060" stroke="#000" stroke-width="1.8"/>
<circle cx="1403.6" cy="804.1" r="6.65" fill="#606060" stroke="#000" stroke-width="1.8"/>
<circle cx="1414.7" cy="804.1" r="6.65" fill="#606060" stroke="#000" stroke-width="1.8"/>
<circle cx="1437.9" cy="804.1" r="6.65" fill="#606060" stroke="#000" stroke-width="1.8"/>
<circle cx="1426.4" cy="820.4" r="6.65" fill="#606060" stroke="#000" stroke-width="1.8"/>
<circle cx="1449.3" cy="820.4" r="6.65" fill="#606060" stroke="#000" stroke-width="1.8"/>
<circle cx="1426.4" cy="853.1" r="6.65" fill="#606060" stroke="#000" stroke-width="1.8"/>
<line x1="1332.70" y1="743.00" x2="1332.70" y2="770.20" stroke="#000" stroke-width="4.4" stroke-linecap="butt"/>
<line x1="1317.20" y1="743.00" x2="1348.20" y2="743.00" stroke="#000" stroke-width="4.4" stroke-linecap="butt"/>
<line x1="1317.20" y1="770.20" x2="1348.20" y2="770.20" stroke="#000" stroke-width="4.4" stroke-linecap="butt"/>
<line x1="1426.50" y1="754.90" x2="1426.50" y2="776.70" stroke="#000" stroke-width="4.4" stroke-linecap="butt"/>
<line x1="1411.00" y1="754.90" x2="1442.00" y2="754.90" stroke="#000" stroke-width="4.4" stroke-linecap="butt"/>
<line x1="1411.00" y1="776.70" x2="1442.00" y2="776.70" stroke="#000" stroke-width="4.4" stroke-linecap="butt"/>
</svg>
</body></html>
